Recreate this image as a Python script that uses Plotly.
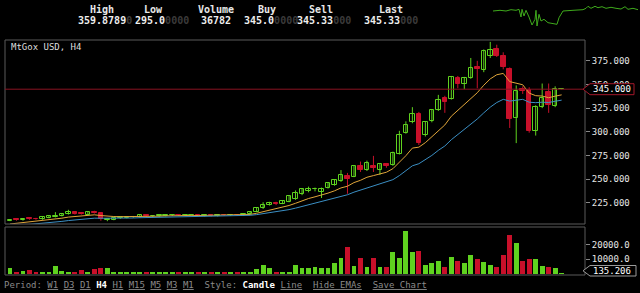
import plotly.graph_objects as go

# ---------------- data ----------------
opens = [206, 207.5, 206.5, 208.5, 208, 207.5, 209, 210, 211, 213,
         215, 214, 212.5, 215, 214.5, 207, 207, 208.5, 209, 209.5,
         209.5, 212, 210.5, 210.5, 211, 211.5, 212.5, 211.5, 211.5, 212,
         211, 212, 211, 212.5, 211.5, 212.5, 211.5, 213, 215.5, 219,
         222.5, 225, 224, 226, 229, 234, 237, 239, 236, 240.5,
         243.5, 247.5, 253.5, 252.5, 263.5, 259.5, 263.5, 259.5, 265.5, 265,
         277, 299, 310, 319, 297, 311, 323, 336, 335, 357,
         351, 357, 368, 365, 380, 387, 380, 366, 315, 345,
         344, 301, 326, 342, 327, 345.2]
highs = [207.5, 208, 208.5, 209, 209, 210, 211, 215, 214, 217.5,
         216, 215, 215.5, 216.5, 215, 208.5, 209.5, 210, 210.5, 211,
         212.5, 213, 211.5, 212, 213, 213, 213, 212.5, 212.5, 212.5,
         213, 212.5, 213, 213, 213, 213, 213.5, 216, 220, 225.5,
         226, 226, 227, 232.5, 238, 240, 242, 241, 241, 246.5,
         249, 259.5, 256.5, 264, 268.5, 269.5, 274.5, 266, 267, 279,
         301, 311, 326, 321, 311, 324, 339, 338, 359, 359,
         358, 378, 375, 387, 395, 392, 384, 368, 349, 348,
         347, 328, 351, 351, 348, 345.6]
lows = [205.5, 206, 206, 207, 207, 207, 208.5, 209.5, 210.5, 212.5,
        212.5, 212.5, 212, 213.5, 206, 205.5, 206.5, 208, 208.5, 209,
        209, 210, 210, 210, 210.5, 211, 211, 211, 211, 210.5,
        210.5, 210.5, 210.5, 211, 211, 211, 211, 212.5, 215, 218.5,
        222, 222.5, 223.5, 225.5, 228, 233, 236, 237, 230, 240,
        243, 247, 234.5, 252, 257.5, 258.5, 257.5, 254.5, 262, 264,
        276, 298, 309, 286, 295, 310, 322, 320, 334, 346,
        345, 356, 346, 363, 378, 379, 366, 304, 288, 340,
        299, 296, 325, 320, 326, 344.9]
closes = [207, 206.5, 208, 207.5, 207.5, 209.5, 210.5, 211, 213.5, 215,
          213.5, 213, 215, 214.5, 208, 207.5, 209, 209.5, 210, 210,
          212, 210.5, 211, 211.5, 212.5, 212.5, 211.5, 212, 212, 211,
          212, 211, 212.5, 211.5, 212.5, 211.5, 213, 215.5, 219.5, 223,
          225, 223.5, 226.5, 232, 235, 239, 240, 239.5, 240, 245.5,
          248.5, 254.5, 250.5, 263.5, 259.5, 266.5, 261.5, 265.5, 263.5, 278,
          297, 307, 319, 288, 310, 323, 334, 331, 358, 350,
          357, 367, 366, 385, 386, 380, 368, 314, 343, 343,
          301, 326, 336, 328, 345, 345.33]
volumes = [3800, 1400, 2100, 2600, 1700, 1400, 1400, 5200, 2100, 1700,
           1400, 2600, 1700, 3300, 3800, 3800, 1000, 1200, 1400, 900,
           1700, 1200, 1000, 1300, 1100, 1500, 1000, 1200, 1400, 900,
           1100, 1000, 1300, 900, 1200, 1000, 1400, 1400, 3300, 6200,
           4000, 1400, 1300, 1400, 6200, 4000, 3800, 4700, 4300, 3800,
           7400, 11000, 18100, 5700, 11000, 4500, 11000, 4500, 4500, 14800,
           11000, 29500, 14800, 15500, 6200, 7600, 9000, 4500, 11400, 9000,
           7400, 12900, 10000, 7900, 6200, 5000, 12900, 26700, 21200, 8600,
           10200, 10200, 5200, 4500, 3800, 135.206]
ema_fast_period, ema_slow_period = 10, 21
ema_fast_seed, ema_slow_seed = 201.5, 199.5
last_price = 345.0
last_volume = 135.206
price_ticks = [225, 250, 275, 300, 325, 350, 375]
volume_ticks = [10000, 20000]

header_labels = ["High", "Low", "Volume", "Buy", "Sell", "Last"]
header_values = [("359.8789", "0"), ("295.0", "0000"), ("36782", ""),
                 ("345.0", "0000"), ("345.33", "000"), ("345.33", "000")]

spark_t = [0, 7, 13, 18, 23, 26, 28, 29, 31, 33, 36, 39, 42, 43, 44, 46, 48, 51,
           55, 60, 64, 66, 70, 80, 90, 93, 95, 98, 102, 105, 109, 113, 118,
           123, 128, 132, 135, 140, 145]
spark_v = [20, 20.7, 20, 21.3, 20.7, 21.7, 14, 21.7, 15, 20.7, 14, 6, 11.7, 20.7,
           5, 16.7, 10, 11.7, 8.3, 7.3, 6.7, 13.3, 20, 20.7, 21.3, 22.7, 24.7,
           22.7, 24.7, 23.3, 24.3, 22.7, 23.7, 22.7, 22, 24.3, 21.7, 22.7, 21.3]

# ---------------- helpers ----------------
W, H = 640, 293
def px(x):
    return x / W
def py(y):
    return 1 - y / H

GREEN = "#5fd21f"
RED = "#c8102a"
n = len(closes)
xs = list(range(n))
up = [c >= o for o, c in zip(opens, closes)]

def ema(values, period, seed):
    a = 2.0 / (period + 1)
    out = []
    prev = seed
    for v in values:
        prev = a * v + (1 - a) * prev
        out.append(prev)
    return out

ema_fast = ema(closes, ema_fast_period, ema_fast_seed)
ema_slow = ema(closes, ema_slow_period, ema_slow_seed)

fig = go.Figure()

# wicks
for flag, col in ((True, GREEN), (False, RED)):
    wx, wy = [], []
    for i in xs:
        if up[i] == flag:
            wx += [i, i, None]
            wy += [lows[i], highs[i], None]
    fig.add_trace(go.Scatter(x=wx, y=wy, mode="lines", line=dict(color=col, width=1),
                             hoverinfo="skip", xaxis="x", yaxis="y"))

# bodies
for flag, col, fill in ((True, GREEN, "#000000"), (False, RED, RED)):
    bx = [i for i in xs if up[i] == flag]
    base = [min(opens[i], closes[i]) for i in bx]
    hgt = [max(abs(closes[i] - opens[i]), 0.4) for i in bx]
    fig.add_trace(go.Bar(x=bx, y=hgt, base=base, width=0.7,
                         marker=dict(color=fill, line=dict(color=col, width=1)),
                         xaxis="x", yaxis="y", hoverinfo="skip"))

# EMAs
fig.add_trace(go.Scatter(x=xs, y=ema_fast, mode="lines", line=dict(color="#e0a53a", width=1),
                         xaxis="x", yaxis="y", hoverinfo="skip"))
fig.add_trace(go.Scatter(x=xs, y=ema_slow, mode="lines", line=dict(color="#3b8fc4", width=1),
                         xaxis="x", yaxis="y", hoverinfo="skip"))

# volume
fig.add_trace(go.Bar(x=xs, y=volumes, width=0.75,
                     marker=dict(color=[GREEN if u else RED for u in up], line=dict(width=0)),
                     xaxis="x2", yaxis="y2", hoverinfo="skip"))

# sparkline
fig.add_trace(go.Scatter(x=spark_t, y=spark_v, mode="lines", line=dict(color="#3faa1c", width=1),
                         xaxis="x3", yaxis="y3", hoverinfo="skip"))

MONO = "DejaVu Sans Mono"
xr = [(5 - 10) / 6.49, (585 - 10) / 6.49]
fig.update_layout(
    width=W, height=H, margin=dict(l=0, r=0, t=0, b=0),
    paper_bgcolor="#000000", plot_bgcolor="#000000", showlegend=False,
    bargap=0, barmode="overlay",
    font=dict(family=MONO, color="#e6e6e6", size=9),
    xaxis=dict(domain=[px(5), px(585)], range=xr, visible=False, anchor="y"),
    yaxis=dict(domain=[py(224), py(40)], range=[202.5, 397], side="right", anchor="x",
               tickmode="array", tickvals=price_ticks,
               ticktext=[f"{v:.3f}" for v in price_ticks],
               ticks="outside", ticklen=4, tickcolor="#888888",
               showgrid=False, zeroline=False, showline=False,
               tickfont=dict(family=MONO, size=9, color="#e6e6e6")),
    xaxis2=dict(domain=[px(5), px(585)], range=xr, visible=False, anchor="y2"),
    yaxis2=dict(domain=[py(274), py(227)], range=[0, 32000], side="right", anchor="x2",
                tickmode="array", tickvals=volume_ticks,
                ticktext=[f"{v:.1f}" for v in volume_ticks],
                ticks="outside", ticklen=4, tickcolor="#888888",
                showgrid=False, zeroline=False, showline=False,
                tickfont=dict(family=MONO, size=9, color="#e6e6e6")),
    xaxis3=dict(domain=[px(493), px(640)], range=[0, 147], visible=False, anchor="y3"),
    yaxis3=dict(domain=[py(28), py(3)], range=[3, 28], visible=False, anchor="x3"),
)

shapes = []
# panel borders
shapes.append(dict(type="rect", xref="paper", yref="paper", x0=px(5), x1=px(585),
                   y0=py(224), y1=py(40), line=dict(color="#5a5a5a", width=1)))
shapes.append(dict(type="rect", xref="paper", yref="paper", x0=px(5), x1=px(585),
                   y0=py(275), y1=py(227), line=dict(color="#5a5a5a", width=1)))
# last price line
shapes.append(dict(type="line", xref="paper", yref="y", x0=px(5), x1=px(585),
                   y0=last_price, y1=last_price, line=dict(color="#8a1322", width=1)))
# last price box
h = 5.8
path = (f"M {px(583)} {last_price} L {px(590)} {last_price + h} L {px(634)} {last_price + h} "
        f"L {px(634)} {last_price - h} L {px(590)} {last_price - h} Z")
shapes.append(dict(type="path", xref="paper", yref="y", path=path,
                   fillcolor="#000000", line=dict(color="#a3182a", width=1), layer="above"))
# last volume box
vy0, vy1 = py(276), py(265.5)
vym = (vy0 + vy1) / 2
path2 = (f"M {px(583)} {vym} L {px(590)} {vy1} L {px(636)} {vy1} "
         f"L {px(636)} {vy0} L {px(590)} {vy0} Z")
shapes.append(dict(type="path", xref="paper", yref="paper", path=path2,
                   fillcolor="#000000", line=dict(color="#9a9a9a", width=1), layer="above"))
fig.update_layout(shapes=shapes)

anns = []
anns.append(dict(text=f"{last_price:.3f}", xref="paper", yref="y", x=px(612), y=last_price,
                 showarrow=False, font=dict(family=MONO, size=9, color="#ffffff"),
                 xanchor="center", yanchor="middle"))
anns.append(dict(text=f"{last_volume:.3f}", xref="paper", yref="paper", x=px(612), y=vym,
                 showarrow=False, font=dict(family=MONO, size=9, color="#ffffff"),
                 xanchor="center", yanchor="middle"))
anns.append(dict(text="MtGox USD, H4", xref="paper", yref="paper", x=px(9), y=py(47),
                 showarrow=False, font=dict(family=MONO, size=9, color="#dddddd"),
                 xanchor="left", yanchor="middle"))

label_cx = [102, 153, 216, 267, 321, 391]
value_cx = [105, 162, 216, 271, 324, 391]
for lab, (val, dim), lx, vx in zip(header_labels, header_values, label_cx, value_cx):
    anns.append(dict(text=f"<b>{lab}</b>", xref="paper", yref="paper", x=px(lx), y=py(10),
                     showarrow=False, font=dict(family=MONO, size=10, color="#e8e8e8"),
                     xanchor="center", yanchor="middle"))
    t = "<b>" + val + (f"<span style='color:#3a3a3a'>{dim}</span>" if dim else "") + "</b>"
    anns.append(dict(text=t, xref="paper", yref="paper", x=px(vx), y=py(21),
                     showarrow=False, font=dict(family=MONO, size=10, color="#eeeeee"),
                     xanchor="center", yanchor="middle"))

G = "#8a8a8a"
def link(s):
    return f"<span style='color:{G};text-decoration:underline'>{s}</span>"
sp = "&nbsp;"
period_text = (f"<span style='color:{G}'>Period:</span>{sp}" + link("W1") + sp + link("D3") + sp +
               link("D1") + sp + "<b>H4</b>" + sp + link("H1") + sp + link("M15") + sp +
               link("M5") + sp + link("M3") + sp + link("M1") + sp * 2 +
               f"<span style='color:{G}'>Style:</span>{sp}" + "<b>Candle</b>" + sp + link("Line") +
               sp * 2 + link("Hide EMAs") + sp * 2 + link("Save Chart"))
anns.append(dict(text=period_text, xref="paper", yref="paper", x=px(2), y=py(285),
                 showarrow=False, font=dict(family=MONO, size=9, color="#ffffff"),
                 xanchor="left", yanchor="middle"))
fig.update_layout(annotations=anns)

fig.write_html("out.html")
